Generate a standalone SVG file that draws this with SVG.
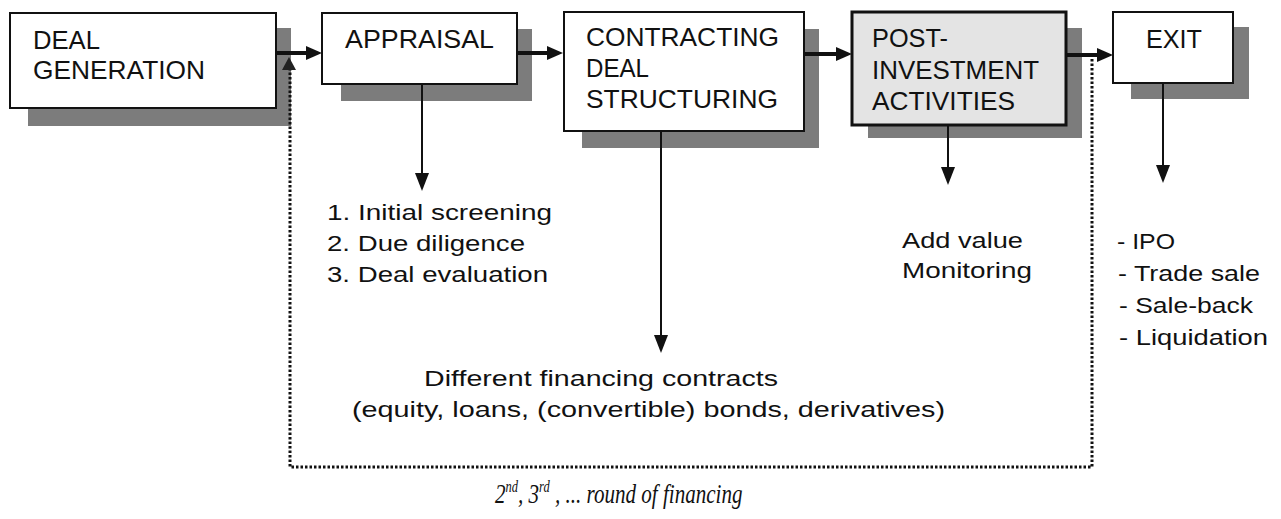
<svg xmlns="http://www.w3.org/2000/svg" width="1281" height="519" viewBox="0 0 1281 519">
  <defs>
    <marker id="headThick" markerUnits="userSpaceOnUse" markerWidth="16" markerHeight="16" viewBox="0 0 16 16" refX="6" refY="8" orient="auto">
      <path d="M0,1 L16,8 L0,15 z" fill="#111"/>
    </marker>
    <marker id="headThin" markerUnits="userSpaceOnUse" markerWidth="18" markerHeight="14" viewBox="0 0 18 14" refX="8" refY="7" orient="auto">
      <path d="M0,0 L18,7 L0,14 z" fill="#111"/>
    </marker>
  </defs>
  <style>
    .shadow { fill: #7c7c7c; }
    .box { fill: #ffffff; stroke: #111; stroke-width: 2; }
    .box-hl { fill: #e4e4e4; stroke: #111; stroke-width: 3; }
    .label { font-family: "Liberation Sans", Arial, sans-serif; font-size: 25.5px; fill: #111; }
    .item { font-family: "Liberation Sans", Arial, sans-serif; font-size: 22px; fill: #111; }
    .note { font-family: "Liberation Serif", "Times New Roman", serif; font-style: italic; font-size: 27px; fill: #111; }
    .sup { font-size: 16px; }
    .thick { stroke: #111; stroke-width: 4; fill: none; marker-end: url(#headThick); }
    .thin { stroke: #111; stroke-width: 2; fill: none; marker-end: url(#headThin); }
    .dotted { stroke: #111; stroke-width: 3; fill: none; stroke-dasharray: 2.5 2; }
  </style>
  <rect width="1281" height="519" fill="#ffffff"/>

  <!-- shadows -->
  <g id="shadows">
    <rect class="shadow" x="28" y="28" width="263" height="98"/>
    <rect class="shadow" x="341" y="29" width="191" height="72"/>
    <rect class="shadow" x="582" y="29" width="237" height="119"/>
    <rect class="shadow" x="868" y="28" width="214" height="110"/>
    <rect class="shadow" x="1131" y="27" width="118" height="72"/>
  </g>

  <!-- connectors -->
  <g id="connectors">
    <line class="thick" x1="276" y1="53" x2="312" y2="53"/>
    <line class="thick" x1="517" y1="53" x2="553" y2="53"/>
    <line class="thick" x1="804" y1="54" x2="842" y2="54"/>
    <line class="thick" x1="1066" y1="55" x2="1103" y2="55"/>
    <line class="thin" x1="422" y1="84" x2="422" y2="181"/>
    <line class="thin" x1="661" y1="131" x2="661" y2="343"/>
    <line class="thin" x1="948" y1="125" x2="948" y2="175"/>
    <line class="thin" x1="1163" y1="83" x2="1163" y2="173"/>
    <path class="dotted" d="M1092,59 V467 H290 V70"/>
    <path d="M289,57 L296,70 L282,70 z" fill="#222"/>
  </g>

  <g id="deal-generation">
    <rect class="box" x="10" y="13" width="266" height="95"/>
    <text class="label" x="33" y="49" textLength="67" lengthAdjust="spacingAndGlyphs">DEAL</text>
    <text class="label" x="33" y="79" textLength="172" lengthAdjust="spacingAndGlyphs">GENERATION</text>
  </g>

  <g id="appraisal">
    <rect class="box" x="322" y="13" width="195" height="71"/>
    <text class="label" x="345" y="48" textLength="149" lengthAdjust="spacingAndGlyphs">APPRAISAL</text>
  </g>

  <g id="contracting">
    <rect class="box" x="564" y="12" width="240" height="119"/>
    <text class="label" x="586" y="46" textLength="193" lengthAdjust="spacingAndGlyphs">CONTRACTING</text>
    <text class="label" x="586" y="77" textLength="63" lengthAdjust="spacingAndGlyphs">DEAL</text>
    <text class="label" x="586" y="108" textLength="192" lengthAdjust="spacingAndGlyphs">STRUCTURING</text>
  </g>

  <g id="post-investment">
    <rect class="box-hl" x="852" y="12" width="214" height="113"/>
    <text class="label" x="872" y="47" textLength="76" lengthAdjust="spacingAndGlyphs">POST-</text>
    <text class="label" x="872" y="79" textLength="167" lengthAdjust="spacingAndGlyphs">INVESTMENT</text>
    <text class="label" x="872" y="110" textLength="143" lengthAdjust="spacingAndGlyphs">ACTIVITIES</text>
  </g>

  <g id="exit">
    <rect class="box" x="1113" y="12" width="120" height="71"/>
    <text class="label" x="1146" y="48" textLength="56" lengthAdjust="spacingAndGlyphs">EXIT</text>
  </g>

  <g id="appraisal-steps">
    <text class="item" x="327" y="220" textLength="225" lengthAdjust="spacingAndGlyphs">1. Initial screening</text>
    <text class="item" x="327" y="251" textLength="198" lengthAdjust="spacingAndGlyphs">2. Due diligence</text>
    <text class="item" x="327" y="282" textLength="221" lengthAdjust="spacingAndGlyphs">3. Deal evaluation</text>
  </g>

  <g id="post-activities">
    <text class="item" x="902" y="248" textLength="121" lengthAdjust="spacingAndGlyphs">Add value</text>
    <text class="item" x="902" y="278" textLength="130" lengthAdjust="spacingAndGlyphs">Monitoring</text>
  </g>

  <g id="exit-routes">
    <text class="item" x="1117" y="249" textLength="58" lengthAdjust="spacingAndGlyphs">- IPO</text>
    <text class="item" x="1118" y="281" textLength="142" lengthAdjust="spacingAndGlyphs">- Trade sale</text>
    <text class="item" x="1119" y="313" textLength="134" lengthAdjust="spacingAndGlyphs">- Sale-back</text>
    <text class="item" x="1119" y="345" textLength="149" lengthAdjust="spacingAndGlyphs">- Liquidation</text>
  </g>

  <g id="financing-contracts">
    <text class="item" x="424" y="386" textLength="354" lengthAdjust="spacingAndGlyphs">Different financing contracts</text>
    <text class="item" x="352" y="417" textLength="593" lengthAdjust="spacingAndGlyphs">(equity, loans, (convertible) bonds, derivatives)</text>
  </g>

  <g id="rounds-note" transform="translate(495,503) scale(0.78,1)">
    <text class="note" x="0" y="0">2<tspan class="sup" dy="-11">nd</tspan><tspan dy="11">, 3</tspan><tspan class="sup" dy="-11">rd</tspan><tspan dy="11"> , ... round of financing</tspan></text>
  </g>
</svg>
